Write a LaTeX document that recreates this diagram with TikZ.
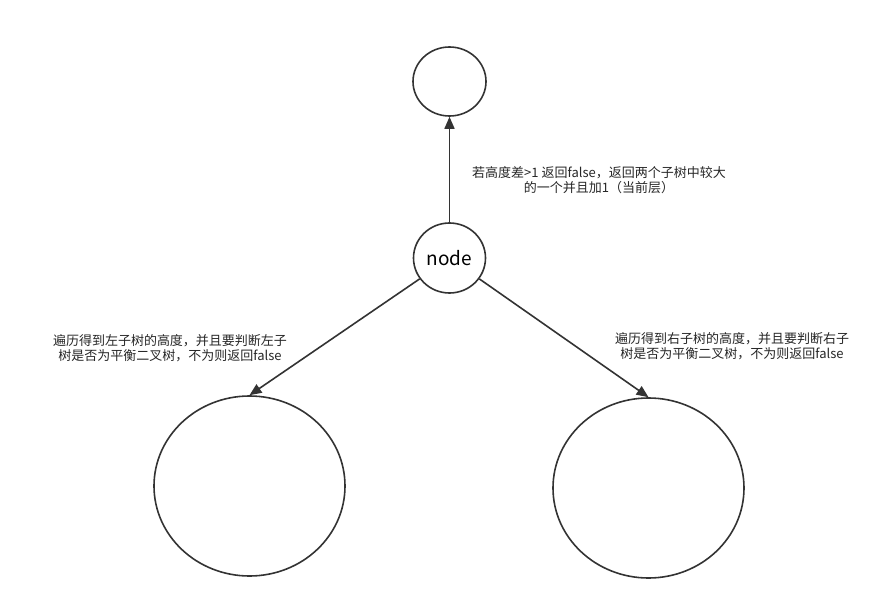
\documentclass[tikz,border=0pt]{standalone}
\usepackage{fontspec}
\setmainfont{Noto Sans CJK SC}
\usetikzlibrary{arrows.meta,shapes.geometric}
\begin{document}
\begin{tikzpicture}[x=1pt,y=-1pt,
  circ/.style={draw=black!80,line width=1.6pt,ellipse,inner sep=0pt},
  conn/.style={draw=black!80,line width=1.6pt,-{Triangle[length=12pt,width=10pt]}},
  lbl/.style={font=\fontsize{13}{15}\selectfont,text=black!85,align=center,inner sep=0pt}]
\useasboundingbox (0,0) rectangle (887,610);
\node[circ,minimum width=73pt,minimum height=69pt] (top) at (449.5,81.5) {};
\node[circ,minimum width=72pt,minimum height=70pt,font=\fontsize{19}{22}\selectfont] (n) at (449.5,258) {node};
\node[circ,minimum width=191pt,minimum height=180pt] (l) at (249.5,486) {};
\node[circ,minimum width=191pt,minimum height=180pt] (r) at (648.5,488) {};
\draw[conn] (n.north) -- (top.south);
\draw[conn] (n.-145) -- (l.north);
\draw[conn] (n.-35) -- (r.north);
\node[lbl] (t1) at (599,180.5) {若高度差>1 返回false，返回两个子树中较大\\的一个并且加1（当前层）};
\node[lbl] (t2) at (170,348.5) {遍历得到左子树的高度，并且要判断左子\\树是否为平衡二叉树，不为则返回false};
\node[lbl] (t3) at (732,346.5) {遍历得到右子树的高度，并且要判断右子\\树是否为平衡二叉树，不为则返回false};
\end{tikzpicture}
\end{document}
